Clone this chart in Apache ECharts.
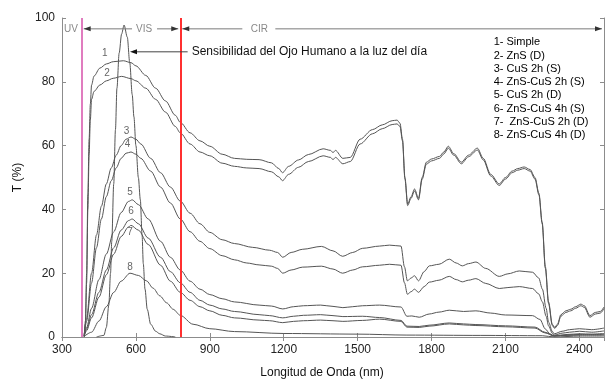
<!DOCTYPE html>
<html>
<head>
<meta charset="utf-8">
<script src="https://cdn.jsdelivr.net/npm/echarts@6/dist/echarts.min.js"></script>
<style>html,body{margin:0;padding:0;background:#fff}#c{width:607px;height:384px}</style>
</head>
<body>
<div id="c"></div>
<script>
// ---------- data (wavelength nm, transmittance %) ----------
const legendNames = ['1- Simple','2- ZnS (D)','3- CuS 2h (S)','4- ZnS-CuS 2h (S)','5- CuS 2h (D)','6- ZnS-CuS 4h (S)','7-  ZnS-CuS 2h (D)','8- ZnS-CuS 4h (D)'];
const xTicks = {min: 300, max: 2500, interval: 300};
const yTicks = {min: 0, max: 100, interval: 20};

const simple = [[390,0],[395,5],[400,20],[405,45],[410,62],[415,73],[420,79],[430,81.8],[454,84.3],[480,85.6],[508,86.3],[549,86.6],[580,86],[600,85],[640,82],[680,78],[720,74],[760,69.5],[780,67.3],[820,64],[860,61.5],[900,59.8],[950,57.3],[1000,56],[1050,55.7],[1100,55.6],[1150,54.6],[1180,52.8],[1195,51.5],[1220,53.5],[1260,55.5],[1300,57.2],[1360,59],[1390,58.5],[1400,57.8],[1410,58.5],[1440,56],[1470,56.3],[1510,62],[1560,65],[1600,66.5],[1640,67.8],[1660,68],[1672,67],[1682,62],[1692,50],[1703,41.7],[1717,44],[1731,46.4],[1747,43.5],[1762,50],[1779,54.8],[1800,55.8],[1832,56.6],[1850,58],[1868,59.8],[1890,57.5],[1921,54.8],[1950,57],[1986,59.2],[2010,56],[2040,51],[2075,48],[2100,50],[2127,52],[2150,52.8],[2176,53.3],[2200,52.5],[2220,50],[2236,45],[2249,36],[2262,22],[2275,11],[2290,4],[2300,3],[2311,4],[2325,7],[2345,8.2],[2365,8.7],[2385,9.5],[2406,10.3],[2420,9.8],[2443,6.7],[2465,7.7],[2485,8],[2500,9.4]];
const znsD = [[390,0],[395,4],[400,17],[405,40],[410,57],[415,68],[420,74.5],[430,77],[454,79],[480,80.3],[508,81.1],[542,81.7],[580,81],[600,80.3],[640,78],[680,74.5],[720,70.5],[760,66],[780,64],[820,60.5],[860,58],[900,56.8],[950,54.5],[1000,53.5],[1050,53],[1100,52.8],[1150,51.8],[1180,50.2],[1195,49],[1220,51],[1260,53.2],[1300,55],[1360,56.8],[1390,56.3],[1400,55.6],[1410,56.3],[1440,54.3],[1470,55],[1510,60.5],[1560,63.7],[1600,65.3],[1640,66.6],[1660,66.8],[1672,66],[1682,61.5],[1692,49.5],[1703,41.2],[1717,43.5],[1731,45.8],[1747,43],[1762,49.5],[1779,54.2],[1800,55.2],[1832,56],[1850,57.4],[1868,59.2],[1890,57],[1921,54.3],[1950,56.5],[1986,58.6],[2010,55.5],[2040,50.5],[2075,47.5],[2100,49.5],[2127,51.5],[2150,52.3],[2176,52.8],[2200,52],[2220,49.5],[2236,44.5],[2249,35.5],[2262,21.5],[2275,10.5],[2290,3.6],[2300,2.7],[2311,3.6],[2325,6.5],[2345,7.7],[2365,8.2],[2385,9],[2406,9.8],[2420,9.3],[2443,6.2],[2465,7.2],[2485,7.5],[2500,8.9]];
const cus2hS = [[390,0.5],[400,6],[420,20],[440,32],[460,41],[480,48],[500,53],[520,57],[540,60],[560,62],[580,62.7],[600,62],[620,60.5],[660,56],[700,51.5],[740,47],[780,42.6],[820,38.8],[860,35.5],[900,32.8],[950,30.5],[1000,29.3],[1074,28.1],[1143,27.2],[1175,26.5],[1196,25],[1230,26.5],[1277,27.5],[1353,28.4],[1400,27],[1439,25.3],[1480,26.5],[1520,27.8],[1589,28.5],[1629,28.8],[1676,28.5],[1690,22],[1702,17.6],[1717,18.5],[1731,19.2],[1747,17.6],[1770,20.5],[1791,22.3],[1830,22.8],[1872,24.4],[1900,23.2],[1925,22.3],[1950,23],[1980,23.5],[2020,21.5],[2075,19],[2110,19.8],[2156,20.7],[2210,20.3],[2235,18.5],[2250,15],[2265,9],[2275,4.7],[2290,1.8],[2298,1],[2330,1.8],[2360,2.3],[2400,2.6],[2450,2.3],[2500,2.8]];
const znsCus2hS = [[390,0.5],[400,5],[420,17],[440,28],[460,37],[480,44],[500,49],[520,53],[540,56],[560,57.6],[580,58],[600,57.3],[620,56],[660,52],[700,47],[740,42],[780,37],[820,33],[860,30],[900,27.7],[950,25.5],[1000,24.2],[1050,23.2],[1100,22.6],[1150,22.2],[1175,21.5],[1196,20],[1230,21],[1277,21.9],[1353,22.2],[1400,21.3],[1439,20],[1480,21],[1520,22],[1589,22.5],[1629,22.8],[1676,22.5],[1690,17],[1702,13.4],[1717,14.2],[1731,15],[1747,14],[1770,15.8],[1791,17.2],[1830,17.8],[1872,19],[1900,18],[1925,17.3],[1950,17.8],[1980,18.3],[2020,16.8],[2075,15.2],[2110,15.5],[2156,15.8],[2210,15.2],[2235,13.5],[2250,11],[2265,6.5],[2275,3.5],[2290,1.2],[2298,0.6],[2330,1.2],[2360,1.5],[2400,1.8],[2450,1.5],[2500,1.9]];
const cus2hD = [[390,0.3],[400,3],[420,9],[450,18],[480,26],[510,33],[540,39],[570,42.5],[585,43],[610,41.5],[650,37],[700,30],[740,25],[780,21],[820,17.5],[860,15],[900,13.3],[950,12],[1000,11],[1100,10],[1150,9.7],[1196,8.8],[1240,9.5],[1280,9.8],[1350,10],[1400,9.6],[1440,9.2],[1480,9.5],[1520,9.8],[1589,10],[1676,9.4],[1700,6.5],[1720,6.6],[1750,6.2],[1790,7.2],[1830,7.8],[1872,8.4],[1930,8],[1980,8.2],[2040,7.5],[2100,6.9],[2210,6.7],[2240,5.5],[2262,2.5],[2280,1],[2298,0.4],[2350,0.8],[2400,1],[2450,0.9],[2500,1.1]];
const znsCus4hS = [[390,0.3],[400,2.5],[420,7],[450,14],[480,21],[510,28],[540,33.5],[570,36.5],[585,37],[610,35.5],[650,31],[700,25],[740,20.5],[780,17],[820,14],[860,11.5],[900,10],[950,8.8],[1000,8],[1100,7],[1143,6.7],[1196,6],[1240,6.5],[1280,6.8],[1350,7],[1400,6.7],[1440,6.4],[1520,6.5],[1589,6.1],[1676,5.2],[1700,3.4],[1750,3.3],[1790,3.7],[1872,4.4],[1930,4.1],[1980,3.9],[2100,3.5],[2220,3.1],[2260,1.5],[2298,0.3],[2350,0.6],[2400,0.8],[2500,0.8]];
const znsCus2hD = [[390,0.3],[400,2],[420,6],[450,12.5],[480,19.5],[510,26],[540,31.5],[570,34.5],[580,35],[610,33.5],[650,29],[700,22.5],[740,17.5],[780,14],[820,11.5],[860,9.5],[900,8.2],[950,6.8],[1000,6],[1100,5.3],[1143,5.1],[1196,4.5],[1240,4.9],[1280,5.1],[1350,5.3],[1400,5.1],[1440,4.9],[1520,5.2],[1589,5.6],[1676,4.9],[1700,3.1],[1750,3],[1790,3.4],[1872,4.1],[1930,3.8],[1980,3.6],[2100,3.2],[2220,2.8],[2260,1.3],[2298,0.3],[2350,0.5],[2400,0.6],[2500,0.6]];
const znsCus4hD = [[390,0.2],[420,1.5],[450,5],[480,9.5],[510,14],[540,17.5],[576,20],[610,19.3],[643,17.6],[670,15.3],[697,12.9],[725,10.7],[751,8.7],[780,6.8],[832,4],[900,2.6],[1000,1.7],[1200,1.1],[1500,0.9],[1700,0.6],[2000,0.5],[2250,0.4],[2300,0],[2400,0.3],[2500,0.3]];
const eyeSensitivity = [[440,0],[470,0.5],[480,3],[490,10],[497,20],[502,30],[510,48],[517,65],[523,78],[532,89],[542,95],[552,97.8],[565,94],[575,86],[585,76],[592,69],[600,60],[610,50],[618,43],[625,32],[630,23],[637,15],[646,8.7],[660,4],[680,1.8],[697,1],[720,0.3],[760,0]];

const sampleCurves = [simple, znsD, cus2hS, znsCus2hS, cus2hD, znsCus4hS, znsCus2hD, znsCus4hD];
const curveNumbers = ['1','2','3','4','5','6','7','8'];
// label anchors in data space (nm, %)
const curveLabelAnchors = [[474,89],[483,82.8],[562,64.5],[566,60.3],[576,45.4],[580,39.5],[576,32.8],[576,21.8]];
const uvLimit = 380, visLimit = 780;
const regionNames = ['UV','VIS','CIR'];
const regionArrowT = 96.6;
const visLabelAt = 633, cirLabelAt = 1101, uvLabelAt = 336;
const eyeArrow = {tip: [576, 89.4], tail: [810, 89.4]};
const eyeText = 'Sensibilidad del Ojo Humano a la luz del día';
const legendAnchor = [2052, 92.3];

// ---------- chart ----------
const FONT = '"Liberation Sans", Arial, sans-serif';
const chart = echarts.init(document.getElementById('c'), null, {renderer: 'canvas'});
const frame = '#8c8c8c';
const lineCol = '#555';

function axisBase(extra) {
  return Object.assign({
    type: 'value',
    axisLine: {show: true, lineStyle: {color: frame, width: 1}},
    axisTick: {show: true, inside: true, length: 4, lineStyle: {color: frame}},
    splitLine: {show: false}
  }, extra);
}

const series = sampleCurves.map((d, i) => ({
  name: legendNames[i], type: 'line', data: d, showSymbol: false, symbol: 'none',
  smooth: 0.3, smoothMonotone: 'x',
  lineStyle: {color: lineCol, width: 1}, silent: true, z: 3
}));
series.push({
  name: 'eye', type: 'line', data: eyeSensitivity, showSymbol: false, symbol: 'none',
  smooth: 0.3, smoothMonotone: 'x',
  lineStyle: {color: lineCol, width: 1}, silent: true, z: 3,
  markLine: {
    silent: true, symbol: 'none', label: {show: false},
    data: [
      {xAxis: uvLimit, lineStyle: {color: '#e07cbf', width: 2, type: 'solid'}},
      {xAxis: visLimit, lineStyle: {color: '#ff3030', width: 2, type: 'solid'}}
    ]
  }
});

chart.setOption({
  animation: false,
  backgroundColor: '#fff',
  grid: {left: 62, right: 3, top: 18, bottom: 46, containLabel: false},
  xAxis: [
    axisBase({min: xTicks.min, max: xTicks.max, interval: xTicks.interval, position: 'bottom',
      name: 'Longitud de Onda (nm)', nameLocation: 'middle', nameGap: 30,
      nameTextStyle: {fontFamily: FONT, fontSize: 12, color: '#111', padding: [0, 22, 0, 0]},
      axisLabel: {fontFamily: FONT, fontSize: 12, color: '#222', margin: 7, showMaxLabel: false,
        formatter: v => String(v)}}),
    axisBase({min: xTicks.min, max: xTicks.max, interval: xTicks.interval, position: 'top',
      axisLabel: {show: false}})
  ],
  yAxis: [
    axisBase({min: yTicks.min, max: yTicks.max, interval: yTicks.interval, position: 'left',
      name: 'T (%)', nameLocation: 'middle', nameGap: 37, nameRotate: 90,
      nameTextStyle: {fontFamily: FONT, fontSize: 12, color: '#111'},
      axisLabel: {fontFamily: FONT, fontSize: 12, color: '#222', margin: 7,
        formatter: v => String(v)}}),
    axisBase({min: yTicks.min, max: yTicks.max, interval: yTicks.interval, position: 'right',
      axisLabel: {show: false}})
  ],
  series: series
});

// ---------- annotations positioned from data coordinates ----------
const px = (l, t) => chart.convertToPixel({seriesIndex: 0}, [l, t]);
function head(x, y, dir, col) {
  return {type: 'polygon', silent: true, z: 10,
    shape: {points: [[x, y], [x - dir * 7, y - 2.5], [x - dir * 7, y + 2.5]]},
    style: {fill: col}};
}
function seg(x1, y1, x2, y2, col) {
  return {type: 'line', silent: true, z: 9, shape: {x1, y1, x2, y2}, style: {stroke: col, lineWidth: 1}};
}
function txt(x, y, s, opts) {
  return {type: 'text', silent: true, z: 11, x, y,
    style: Object.assign({text: s, fontFamily: FONT, fontSize: 10, fill: '#888',
      align: 'center', verticalAlign: 'middle'}, opts || {})};
}

const g = [];
const arrowCol = '#7a7a7a';
const [uvX, ay] = px(uvLimit, regionArrowT);
const visX = px(visLimit, regionArrowT)[0];
const endX = px(xTicks.max, regionArrowT)[0] - 2;
const visLX = px(visLabelAt, regionArrowT)[0];
const cirLX = px(cirLabelAt, regionArrowT)[0];
const uvLX = px(uvLabelAt, regionArrowT)[0];
g.push(txt(uvLX, ay, regionNames[0], {fontSize: 10}));
g.push(seg(uvX + 2, ay, visLX - 12, ay, arrowCol));
g.push(seg(visLX + 13, ay, visX - 2, ay, arrowCol));
g.push(head(uvX + 2, ay, -1, '#333'));
g.push(head(visX - 2, ay, 1, '#333'));
g.push(txt(visLX, ay, regionNames[1]));
g.push(seg(visX + 2, ay, cirLX - 17, ay, arrowCol));
g.push(seg(cirLX + 16, ay, endX, ay, arrowCol));
g.push(head(visX + 2, ay, -1, '#333'));
g.push(head(endX, ay, 1, '#333'));
g.push(txt(cirLX, ay, regionNames[2]));

const [tx, ty] = px(eyeArrow.tip[0], eyeArrow.tip[1]);
const tailX = px(eyeArrow.tail[0], eyeArrow.tail[1])[0];
g.push(seg(tx + 6, ty, tailX, ty, '#444'));
g.push(head(tx, ty, -1, '#111'));
g.push(txt(tailX + 4, ty, eyeText, {align: 'left', fontSize: 12, fill: '#111'}));

curveNumbers.forEach((n, i) => {
  const [x, y] = px(curveLabelAnchors[i][0], curveLabelAnchors[i][1]);
  g.push(txt(x, y, n, {fontSize: 10, fill: '#666'}));
});

const [lx, ly] = px(legendAnchor[0], legendAnchor[1]);
g.push({type: 'text', silent: true, z: 11, x: lx, y: ly - 7,
  style: {text: legendNames.join('\n'), fontFamily: FONT, fontSize: 11, fill: '#000',
    lineHeight: 13.3, align: 'left', verticalAlign: 'top'}});

chart.setOption({graphic: {elements: g}});
</script>
</body>
</html>
